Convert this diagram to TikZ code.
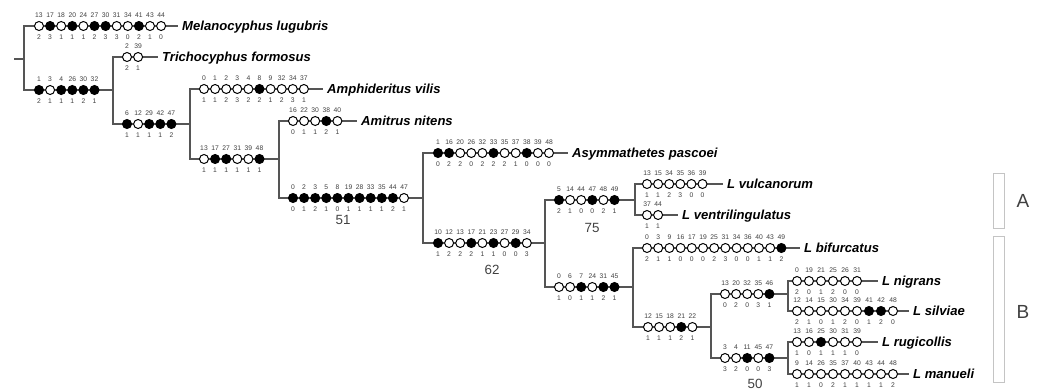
\documentclass[tikz,border=0pt]{standalone}
\usepackage{fontspec}
\setmainfont{Liberation Sans}
\usepackage{tikz}
\usetikzlibrary{positioning}
\definecolor{lineaGris}{HTML}{555555}
\definecolor{numGris}{HTML}{404040}
\definecolor{cajaGris}{HTML}{C4C4C4}

% #1 paso, #2 nombre, #3 x inicial, #4 y, #5 lista caracter/estado/relleno
\newcommand{\caracteres}[5][11.1]{%
  \foreach \n/\e/\f [count=\i from 0] in {#5}
    \node[st\f, label={[num]above:\n}, label={[num]below:\e}] (#2-\i) at ({#3+#1*\i},#4) {};
}

\begin{document}
\begin{tikzpicture}[
        x=0.025cm, y=-0.025cm,
        rama/.style={draw=lineaGris, line width=0.8pt},
        st0/.style={circle, draw=black, fill=white, line width=0.7pt, minimum size=6.4pt, inner sep=0pt},
        st1/.style={st0, fill=black},
        num/.style={font=\fontsize{4.8}{5}\selectfont, text=numGris, inner sep=0pt,
            text height=3.4pt, text depth=0pt, label distance=2.2pt},
        taxon/.style={anchor=west, font=\fontsize{9.3}{11}\selectfont\bfseries\itshape,
            inner xsep=2.8pt, inner ysep=0pt, text height=6.7pt, text depth=0pt},
        soporte/.style={font=\fontsize{9.5}{11}\selectfont, text=numGris},
        grupo/.style={draw=cajaGris, line width=0.7pt, minimum width=0.275cm, inner sep=0pt},
        letra/.style={font=\fontsize{13.5}{15}\selectfont, text=numGris}
    ]
        \useasboundingbox (0,0) rectangle (1040,391);

        % nodos internos
        \coordinate (raiz) at (14,59);
        \coordinate (n0) at (24,59);
        \coordinate (n1) at (113,90);
        \coordinate (n2) at (190,124);
        \coordinate (n3) at (279,159);
        \coordinate (n4) at (423,198);
        \coordinate (n5) at (545,243);
        \coordinate (n6) at (635,200);
        \coordinate (n7) at (633,287);
        \coordinate (n8) at (711,327);
        \coordinate (n9) at (788,294);
        \coordinate (n10) at (788,358);

        % terminales
        \node[taxon] (mel) at (178,26) {Melanocyphus lugubris};
        \node[taxon] (tri) at (158,57) {Trichocyphus formosus};
        \node[taxon] (amph) at (323,89) {Amphideritus vilis};
        \node[taxon] (amit) at (357,121) {Amitrus nitens};
        \node[taxon] (asym) at (568,153) {Asymmathetes pascoei};
        \node[taxon] (vulc) at (723,184) {L vulcanorum};
        \node[taxon] (vent) at (678,215) {L ventrilingulatus};
        \node[taxon] (bif) at (800,248) {L bifurcatus};
        \node[taxon] (nig) at (878,281) {L nigrans};
        \node[taxon] (sil) at (909,311) {L silviae};
        \node[taxon] (rug) at (878,342) {L rugicollis};
        \node[taxon] (man) at (909,374) {L manueli};

        % ramas
        \draw[rama] (raiz) -- (n0);
        \foreach \a/\b in {n0/mel.west, n0/n1, n1/tri.west, n1/n2, n2/amph.west, n2/n3,
                n3/amit.west, n3/n4, n4/asym.west, n4/n5, n5/n6, n5/n7, n6/vulc.west,
                n6/vent.west, n7/bif.west, n7/n8, n8/n9, n8/n10, n9/nig.west,
                n9/sil.west, n10/rug.west, n10/man.west}
            \draw[rama] (\a) |- (\b);

        % caracteres
        \caracteres{mel}{39}{26}{13/2/0, 17/3/1, 18/1/0, 20/1/1, 24/1/0, 27/2/1, 30/3/1, 31/3/0, 34/0/0, 41/2/1, 43/1/0, 44/0/0}
        \caracteres{b0}{39}{90}{1/2/1, 3/1/0, 4/1/1, 26/1/1, 30/2/1, 32/1/1}
        \caracteres{tri}{127}{57}{2/2/0, 39/1/0}
        \caracteres{b1}{127}{124}{6/1/1, 12/1/0, 29/1/1, 42/1/1, 47/2/1}
        \caracteres{amph}{204}{89}{0/1/0, 1/1/0, 2/2/0, 3/3/0, 4/2/0, 8/2/1, 9/1/0, 32/2/0, 34/3/0, 37/1/0}
        \caracteres{b2}{204}{159}{13/1/0, 17/1/1, 27/1/1, 31/1/0, 39/1/0, 48/1/1}
        \caracteres{amit}{293}{121}{16/0/0, 22/1/0, 30/1/0, 38/2/1, 40/1/0}
        \caracteres{b3}{293}{198}{0/0/1, 2/1/1, 3/2/1, 5/1/1, 8/0/1, 19/1/1, 28/1/1, 33/1/1, 35/1/1, 44/2/1, 47/1/0}
        \caracteres{asym}{438}{153}{1/0/1, 16/2/1, 20/2/0, 26/0/0, 32/2/0, 33/2/1, 35/2/0, 37/1/0, 38/0/1, 39/0/0, 48/0/0}
        \caracteres{b4}{438}{243}{10/1/1, 12/2/0, 13/2/0, 17/2/1, 21/1/0, 23/1/1, 27/0/0, 29/0/1, 34/3/0}
        \caracteres{b5}{559}{200}{5/2/1, 14/1/0, 44/0/0, 47/0/1, 48/2/0, 49/1/1}
        \caracteres{vulc}{647}{184}{13/1/0, 15/1/0, 34/2/0, 35/3/0, 36/0/0, 39/0/0}
        \caracteres{vent}{647}{215}{37/1/0, 44/1/0}
        \caracteres{b6}{559}{287}{0/1/0, 6/0/0, 7/1/1, 24/1/0, 31/2/1, 45/1/1}
        \caracteres[11.2]{bif}{647}{248}{0/2/0, 3/1/0, 9/1/0, 16/0/0, 17/0/0, 19/0/0, 25/2/0, 31/3/0, 34/0/0, 36/0/0, 40/1/0, 43/1/0, 49/2/1}
        \caracteres{b7}{648}{327}{12/1/0, 15/1/0, 18/1/0, 21/2/1, 22/1/0}
        \caracteres{b8}{725}{294}{13/0/0, 20/2/0, 32/0/0, 35/3/0, 46/1/1}
        \caracteres[12]{nig}{797}{281}{0/2/0, 19/0/0, 21/1/0, 25/2/0, 26/0/0, 31/0/0}
        \caracteres[12]{sil}{797}{311}{12/2/0, 14/1/0, 15/0/0, 30/1/0, 34/2/0, 39/0/0, 41/1/1, 42/2/1, 48/0/0}
        \caracteres{b9}{725}{358}{3/3/0, 4/2/0, 11/0/1, 45/0/0, 47/3/1}
        \caracteres[12]{rug}{797}{342}{13/1/0, 16/0/0, 25/1/1, 30/1/0, 31/1/0, 39/0/0}
        \caracteres[12]{man}{797}{374}{9/1/0, 14/1/0, 26/0/0, 35/2/0, 37/1/0, 40/1/0, 43/1/0, 44/1/0, 48/2/0}

        % soportes
        \node[soporte] (s51) at (343,220) {51};
        \node[soporte] (s62) at (492,270) {62};
        \node[soporte] (s75) at (592,228) {75};
        \node[soporte] (s50) at (755,384) {50};

        % grupos
        \node[grupo, minimum height=1.375cm] (grA) at (998.5,200.5) {};
        \node[grupo, minimum height=3.625cm] (grB) at (998.5,309.5) {};
        \node[letra] (letA) at (1023,201) {A};
        \node[letra] (letB) at (1023,312) {B};
    \end{tikzpicture}
\end{document}
